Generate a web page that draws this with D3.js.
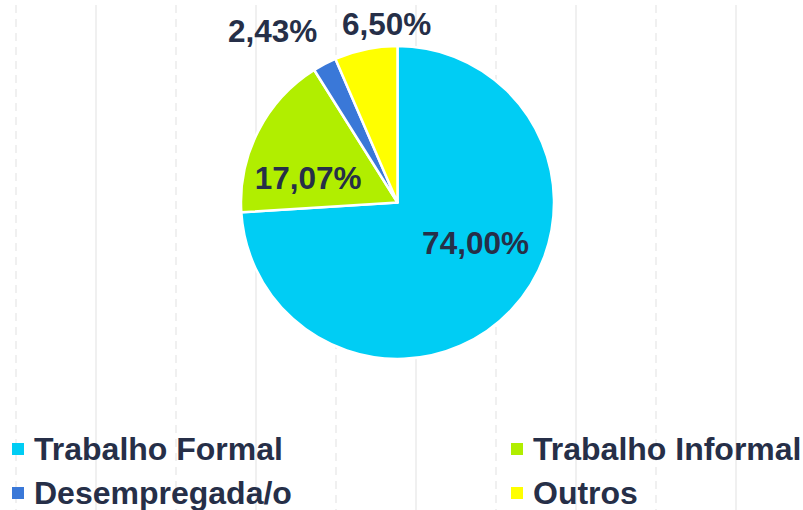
<!DOCTYPE html>
<html>
<head>
<meta charset="utf-8">
<script src="https://cdn.jsdelivr.net/npm/d3@7"></script>
<style>
  html, body { margin: 0; padding: 0; background: #ffffff; }
  svg { display: block; }
</style>
</head>
<body>
<svg id="chart" width="803" height="510"></svg>
<script>
// ---- data ----
const categories = ["Trabalho Formal", "Trabalho Informal", "Desempregada/o", "Outros"];
const values = [74.00, 17.07, 2.43, 6.50];
const valueLabels = ["74,00%", "17,07%", "2,43%", "6,50%"];
const colors = ["#00CDF4", "#B1EE00", "#3A78D8", "#FFFF00"];

// ---- layout (not data) ----
const W = 803, H = 510;
const cx = 397.5, cy = 202.5, R = 156.5;
const textColor = "#262F48";
// label placement: inside labels use the arc centroid, outside labels use an outer arc; small nudges follow the reference
const labelOutside = [false, false, true, true];
const labelNudge = [[21, -12.6], [-19.8, 11.1], [-41, -12.3], [25.7, -2.2]];

const svg = d3.select("#chart");

// background vertical gridlines
const gx = d3.scaleLinear().domain([0, 10]).range([16, 816]);
svg.append("g").selectAll("line")
  .data(d3.range(0, 10))
  .join("line")
  .attr("x1", d => gx(d)).attr("x2", d => gx(d))
  .attr("y1", 5).attr("y2", H)
  .attr("stroke", "#F0F0F0")
  .attr("stroke-width", 2)
  .attr("stroke-dasharray", d => d % 2 === 0 ? "8,6" : null);

const pie = d3.pie().sort(null).value(d => d.v).startAngle(0).endAngle(2 * Math.PI);
const arcs = pie(categories.map((c, i) => ({ c, v: values[i], i })));
const arc = d3.arc().innerRadius(0).outerRadius(R);
const outerArc = d3.arc().innerRadius(R * 1.15).outerRadius(R * 1.15);

const g = svg.append("g").attr("transform", `translate(${cx},${cy})`);
g.selectAll("path")
  .data(arcs)
  .join("path")
  .attr("d", arc)
  .attr("fill", d => colors[d.data.i])
  .attr("stroke", "#ffffff")
  .attr("stroke-width", 2.5)
  .attr("stroke-linejoin", "round");

g.selectAll("text.lbl")
  .data(arcs)
  .join("text")
  .attr("class", "lbl")
  .attr("transform", d => {
    const i = d.data.i;
    const c = labelOutside[i] ? outerArc.centroid(d) : arc.centroid(d);
    return `translate(${c[0] + labelNudge[i][0]},${c[1] + labelNudge[i][1]})`;
  })
  .attr("text-anchor", "middle")
  .attr("dy", "0.35em")
  .attr("font-family", "'Liberation Sans', Arial, sans-serif")
  .attr("font-weight", "bold")
  .attr("font-size", 31.5)
  .attr("fill", textColor)
  .text(d => valueLabels[d.data.i]);

// legend
const legendCols = [12, 511];
const legendRows = [459.5, 503.5];
const legendOrder = [0, 1, 2, 3];
const lg = svg.append("g");
const items = lg.selectAll("g")
  .data(legendOrder)
  .join("g")
  .attr("transform", (d, k) => `translate(${legendCols[k % 2]},${legendRows[Math.floor(k / 2)]})`);
items.append("rect")
  .attr("x", 0).attr("y", -16.5)
  .attr("width", 12).attr("height", 12)
  .attr("fill", d => colors[d]);
items.append("text")
  .attr("x", 22).attr("y", 0)
  .attr("font-family", "'Liberation Sans', Arial, sans-serif")
  .attr("font-weight", "bold")
  .attr("font-size", 32)
  .attr("fill", textColor)
  .text(d => categories[d]);
</script>
</body>
</html>
